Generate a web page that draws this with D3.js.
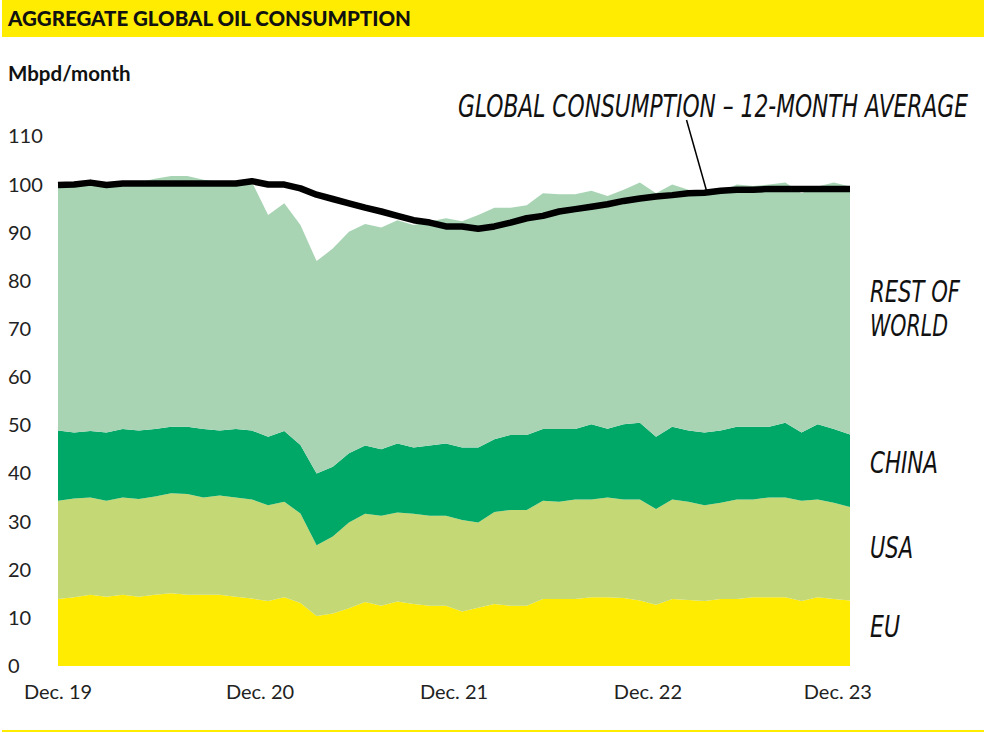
<!DOCTYPE html>
<html>
<head>
<meta charset="utf-8">
<script src="https://cdn.jsdelivr.net/npm/d3@7"></script>
<style>
  body { margin: 0; background: #fff; }
  svg { display: block; }
</style>
</head>
<body>
<div class="chart"></div>
<script>
// monthly Mbpd, Dec 19 onward (50 months)
const eu = [13.9,14.3,14.8,14.4,14.8,14.4,14.8,15.1,14.8,14.8,
  14.8,14.4,14.0,13.5,14.3,13.1,10.4,10.9,12.0,13.3,
  12.5,13.4,12.9,12.5,12.5,11.3,12.1,12.9,12.5,12.5,
  13.9,13.9,13.9,14.3,14.3,14.1,13.6,12.7,13.9,13.7,
  13.5,13.9,13.9,14.3,14.3,14.3,13.5,14.3,13.9,13.6];
const usa = [20.4,20.5,20.2,19.9,20.2,20.3,20.4,20.8,20.9,20.2,
  20.6,20.6,20.6,19.9,19.8,18.6,14.7,16.0,17.8,18.3,
  18.7,18.5,18.7,18.7,18.7,19.0,17.7,19.1,19.9,19.9,
  20.4,20.2,20.7,20.3,20.7,20.5,21.0,19.9,20.7,20.4,
  19.9,20.0,20.7,20.3,20.7,20.7,20.8,20.3,20.0,19.4];
const china = [14.6,13.7,13.8,14.2,14.2,14.2,14.0,13.8,14.0,14.2,
  13.5,14.2,14.3,14.2,14.7,14.2,14.9,14.5,14.4,14.2,
  13.8,14.3,13.8,14.6,15.0,15.1,15.6,15.1,15.6,15.6,
  14.9,15.1,14.6,15.6,14.3,15.6,15.9,15.0,15.1,14.8,
  15.1,15.0,15.1,15.1,14.7,15.5,14.2,15.6,15.3,15.1];
const restOfWorld = [51.1,51.5,51.5,51.5,51.2,51.6,52.0,52.1,52.1,51.8,
  51.7,51.2,51.6,46.1,47.3,45.7,44.1,45.3,46.0,46.0,
  46.1,46.4,46.2,46.5,46.8,47.0,48.3,48.1,47.2,47.7,
  49.0,48.8,48.8,48.5,48.3,48.7,49.9,50.6,50.3,50.0,
  49.1,49.6,50.3,50.0,50.3,49.9,49.7,49.4,51.2,51.5];
const avg12 = [99.9,100.0,100.4,99.9,100.2,100.2,100.2,100.2,100.2,100.2,
  100.2,100.2,100.7,100.0,100.0,99.2,97.9,97.0,96.1,95.2,
  94.4,93.5,92.6,92.1,91.3,91.3,90.8,91.3,92.1,93.0,
  93.5,94.4,94.9,95.4,95.9,96.6,97.1,97.5,97.8,98.2,
  98.3,98.7,98.9,98.9,99.1,99.1,99.1,99.1,99.1,99.1];

const seriesKeys = ["eu", "usa", "china", "row"];
const seriesNames = [["EU"], ["USA"], ["CHINA"], ["REST OF", "WORLD"]];
const seriesLabelValue = [8.3, 24.7, 42.4, 74.4];
const colors = ["#ffec00", "#c4d876", "#00a868", "#a8d4b4"];

const xTickLabels = ["Dec. 19", "Dec. 20", "Dec. 21", "Dec. 22", "Dec. 23"];
const xTickIdx = [0, 12.5, 24.5, 36.5, 48.25];
const yTicks = d3.range(0, 111, 10);

const width = 984, height = 733;

const rows = eu.map((d, i) => ({
  i: i, eu: d, usa: usa[i], china: china[i], row: restOfWorld[i]
}));

const svg = d3.select(".chart").append("svg")
  .attr("width", width)
  .attr("height", height);

const x = d3.scaleLinear().domain([0, eu.length - 1]).range([58, 850]);
const y = d3.scaleLinear().domain([0, 110]).range([666, 136.4]);

// header band
svg.append("rect")
  .attr("x", 2).attr("y", 0).attr("width", width - 2).attr("height", 37)
  .attr("fill", "#ffec00");
svg.append("text")
  .attr("x", 8).attr("y", 26)
  .attr("font-family", "Lato, sans-serif")
  .attr("font-weight", 900)
  .attr("font-size", 20.5)
  .attr("fill", "#111")
  .text("AGGREGATE GLOBAL OIL CONSUMPTION");

svg.append("rect")
  .attr("x", 2).attr("y", 730).attr("width", width - 2).attr("height", 2)
  .attr("fill", "#ffec00");

svg.append("text")
  .attr("x", 8).attr("y", 81)
  .attr("font-family", "Lato, sans-serif")
  .attr("font-weight", 700)
  .attr("font-size", 20.5)
  .attr("fill", "#111")
  .text("Mbpd/month");

// stacked areas
const stacked = d3.stack().keys(seriesKeys)(rows);
const area = d3.area()
  .x(d => x(d.data.i))
  .y0(d => y(d[0]))
  .y1(d => y(d[1]));

svg.append("g")
  .selectAll("path")
  .data(stacked)
  .join("path")
  .attr("fill", (d, k) => colors[k])
  .attr("d", area);

// 12-month average line
const line = d3.line()
  .x((d, i) => x(i))
  .y(d => y(d));

svg.append("path")
  .datum(avg12)
  .attr("fill", "none")
  .attr("stroke", "#000")
  .attr("stroke-width", 6.5)
  .attr("stroke-linejoin", "round")
  .attr("d", line);

// y axis labels
svg.append("g")
  .attr("font-family", "Lato, sans-serif")
  .attr("font-size", 20)
  .attr("fill", "#222")
  .selectAll("text")
  .data(yTicks)
  .join("text")
  .attr("x", 8)
  .attr("y", d => y(d))
  .attr("dy", "0.35em")
  .text(d => d);

// x axis labels
svg.append("g")
  .attr("font-family", "Lato, sans-serif")
  .attr("font-size", 20)
  .attr("fill", "#222")
  .selectAll("text")
  .data(xTickLabels)
  .join("text")
  .attr("x", (d, k) => x(xTickIdx[k]))
  .attr("y", 699)
  .attr("text-anchor", "middle")
  .text(d => d);

// series labels on the right
const handFont = "'DejaVu Sans Condensed', 'Liberation Sans Narrow', Roboto, sans-serif";
const labelWidths = { "EU": 30, "USA": 43, "CHINA": 68, "REST OF": 90, "WORLD": 78 };
seriesNames.forEach((lines, k) => {
  const cy = y(seriesLabelValue[k]);
  lines.forEach((t, j) => {
    svg.append("text")
      .attr("x", 870)
      .attr("y", cy + 11 + (j - (lines.length - 1) / 2) * 34)
      .attr("font-family", handFont)
      .attr("font-style", "italic")
      .attr("font-size", 30)
      .attr("fill", "#111")
      .attr("textLength", labelWidths[t])
      .attr("lengthAdjust", "spacingAndGlyphs")
      .text(t);
  });
});

// callout for the average line
const calloutIdx = 40;
svg.append("line")
  .attr("x1", x(calloutIdx) - 18).attr("y1", 120)
  .attr("x2", x(calloutIdx) + 2).attr("y2", y(avg12[calloutIdx]) - 2)
  .attr("stroke", "#000")
  .attr("stroke-width", 1.5);
svg.append("text")
  .attr("transform", "translate(458,117) scale(1,1.35)")
  .attr("font-family", handFont)
  .attr("font-style", "italic")
  .attr("font-size", 23)
  .attr("fill", "#111")
  .attr("textLength", 510)
  .attr("lengthAdjust", "spacingAndGlyphs")
  .text("GLOBAL CONSUMPTION \u2013 12-MONTH AVERAGE");
</script>
</body>
</html>
